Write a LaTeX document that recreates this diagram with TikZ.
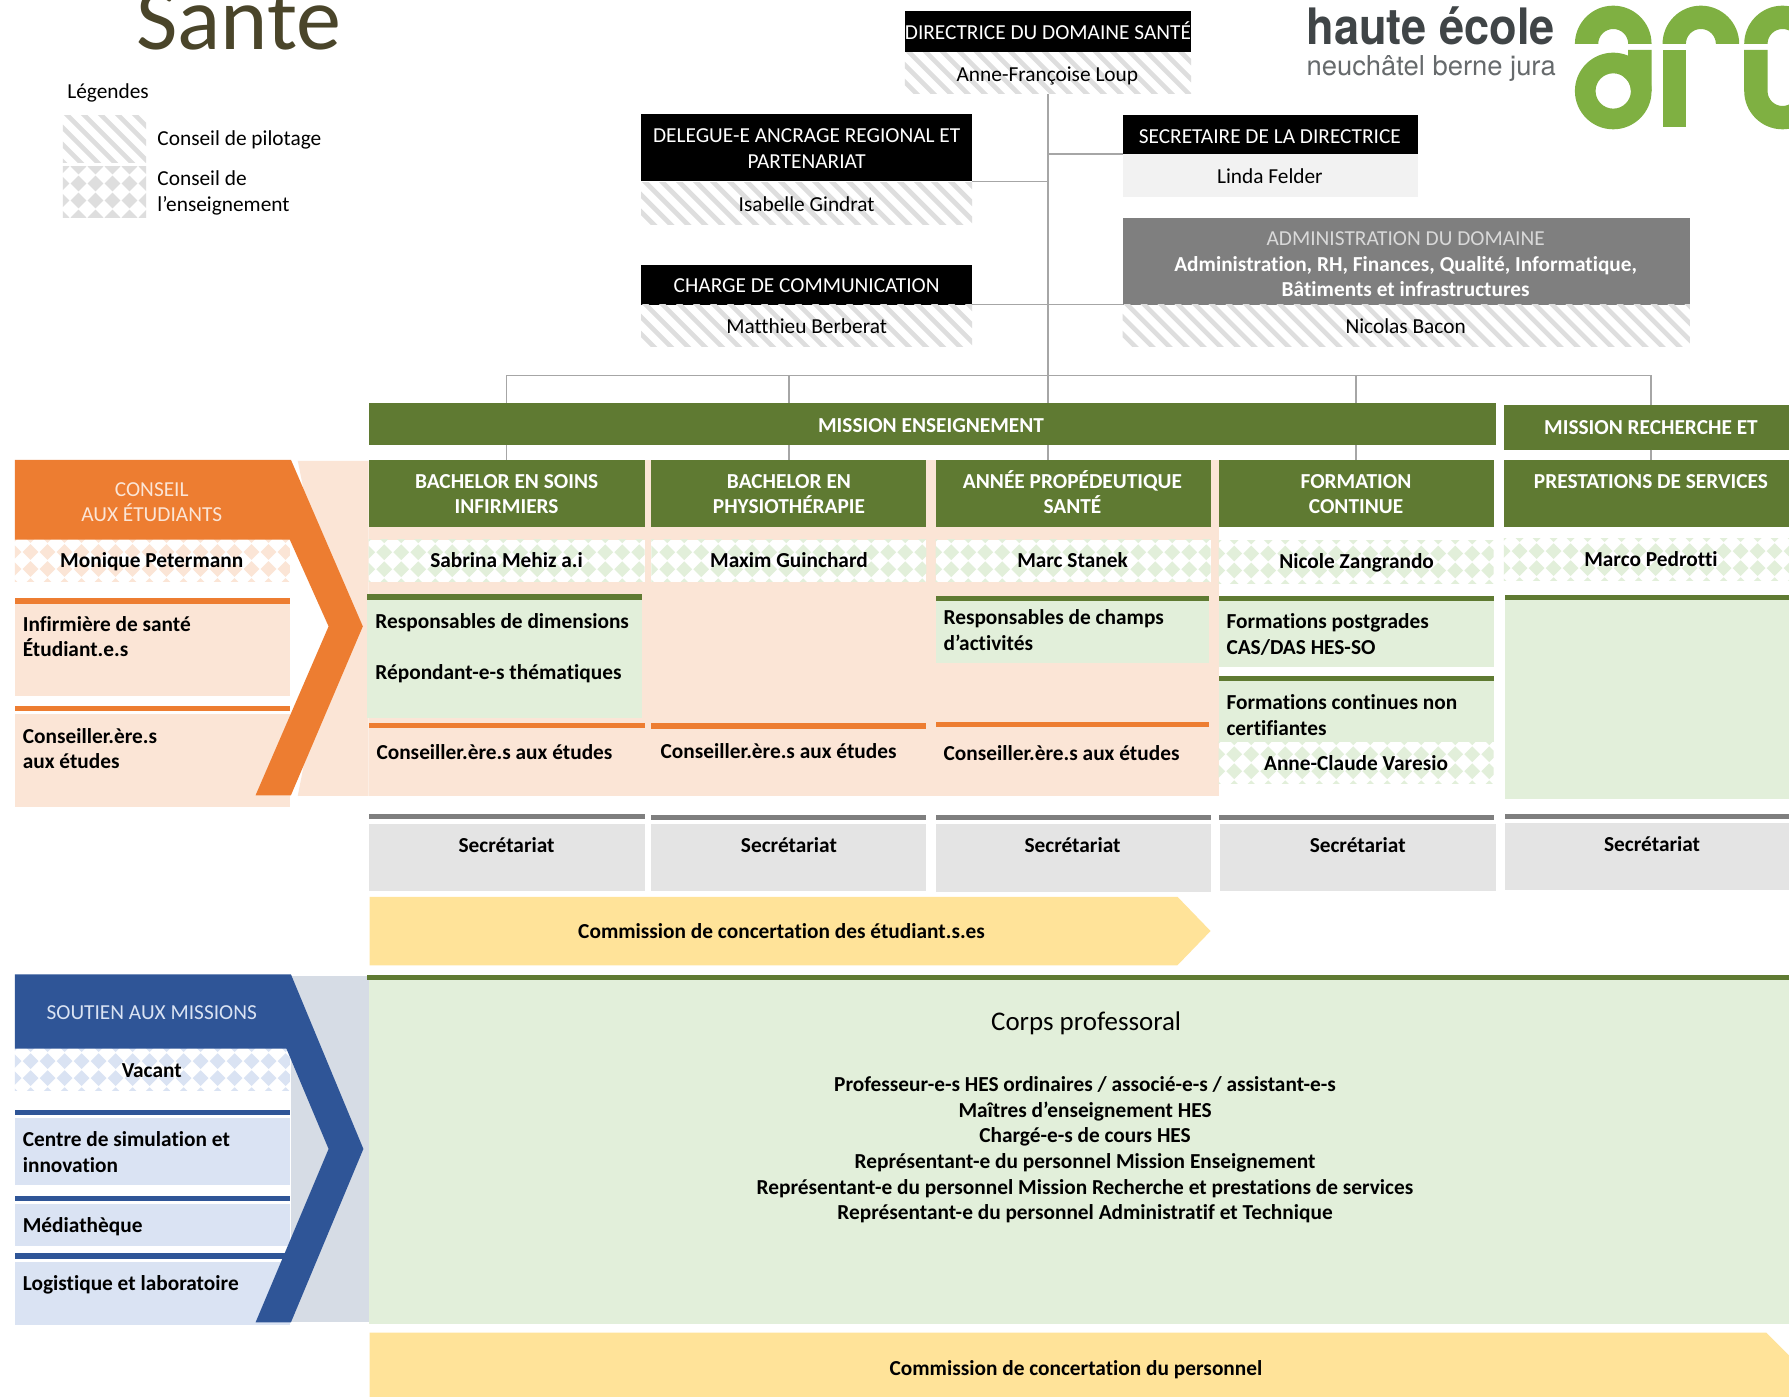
\documentclass[tikz,border=0pt]{standalone}
\usepackage{fontspec}
\usepackage{graphicx}
\setmainfont[Ligatures=CommonOff]{Carlito}
\newfontfamily\heros{TeX Gyre Heros}
\usetikzlibrary{calc}
\definecolor{gDark}{HTML}{5F7A32}
\definecolor{gLight}{HTML}{E2EFDA}
\definecolor{oDark}{HTML}{ED7D31}
\definecolor{oLight}{HTML}{FBE5D6}
\definecolor{bDark}{HTML}{2F5597}
\definecolor{bLight}{HTML}{DAE3F3}
\definecolor{bBack}{HTML}{D6DCE5}
\definecolor{grDark}{HTML}{7F7F7F}
\definecolor{grLight}{HTML}{E4E4E4}
\definecolor{hatchGrey}{HTML}{DEDEDE}
\definecolor{yel}{HTML}{FFE399}
\definecolor{arcGreen}{HTML}{7FB042}
\definecolor{sante}{HTML}{4A452A}
\definecolor{logoGrey}{HTML}{404547}
\definecolor{connGrey}{HTML}{A6A6A6}
\newcommand\fN{\fontsize{18.7}{22.5}\selectfont}
\newcommand\fB{\fontsize{18.7}{22.5}\selectfont\bfseries}
\tikzset{
 x=1pt,y=-1pt,
 boxn/.style={inner sep=0,outer sep=0,draw=none},
 conn/.style={draw=connGrey,line width=1.2pt},
 hatchfill/.style={fill=white,path picture={
   \foreach \k in {-4,...,36}{
     \draw[hatchGrey,line width=4.1pt] ($(path picture bounding box.north west)+(\k*14.9,-4)$) -- ++(54,54);
   }}},
 dmdfill/.style={fill=white,path picture={
   \foreach \r in {-2,...,1}{\foreach \c in {0,...,36}{
     \fill[#1] ($(path picture bounding box.west)+(\c*14.9-8,\r*14.9+7.45)$) -- ++(6.9,-6.9) -- ++(6.9,6.9) -- ++(-6.9,6.9) -- cycle;
   }}}},
 tc/.style={inner sep=0,outer sep=0,yshift=-2pt,align=center,font=\fN,text=black},
 tcb/.style={inner sep=0,outer sep=0,yshift=-2pt,align=center,font=\fB,text=black},
 tl/.style={inner sep=0,outer sep=0,yshift=-2pt,align=left,anchor=west,font=\fN,text=black},
 tlb/.style={inner sep=0,outer sep=0,yshift=-2pt,align=left,anchor=west,font=\fB,text=black},
}
\newcommand\bx[6]{\node[boxn,#1,minimum width={(#5-#3)*1pt},minimum height={(#6-#4)*1pt}] (#2) at ({(#3+#5)/2},{(#4+#6)/2}) {};}
\begin{document}
\begin{tikzpicture}
\path[use as bounding box,clip] (0,0) rectangle (1568,1223.6);
\fill[white] (0,0) rectangle (1568,1223.6);

% title and legend
\node[inner sep=0,anchor=base west,text=sante,font=\fontsize{79}{90}\selectfont] (title) at (119,43) {Santé};
\node[tl] (legT) at (59,80) {\strut Légendes};
\bx{hatchfill}{legH}{55}{101}{128}{142}
\bx{dmdfill=hatchGrey}{legD}{55}{145.5}{128}{191}
\node[tl] (legHt) at (138,121) {\strut Conseil de pilotage};
\node[tl] (legDt) at (138,167.5) {\strut Conseil de\\\strut l’enseignement};

% logo
\node[inner sep=0,anchor=base west,text=logoGrey,font=\heros\bfseries\fontsize{44}{50}\selectfont] (he) at (1145,39) {\scalebox{0.9}[1]{haute école}};
\node[inner sep=0,anchor=base west,text=logoGrey!80,font=\heros\fontsize{24}{30}\selectfont] (nbj) at (1145,66) {neuchâtel berne jura};
\begin{scope}[shift={(1367.2,0)},x=0.2921pt,y=-0.2921pt]
 \fill[arcGreen] (45,132) arc[start angle=180,end angle=0,radius=115pt*0.2921] -- (205,132) arc[start angle=0,end angle=180,radius=45pt*0.2921] -- cycle;
 \fill[arcGreen,even odd rule] (160,273) circle[radius=115pt*0.2921] (160,273) circle[radius=53pt*0.2921];
 \fill[arcGreen] (205,150) -- (275,150) -- (275,273) -- (213,273) arc[start angle=0,end angle=55,radius=53pt*0.2921] -- (205,165) -- cycle;
 \fill[arcGreen] (308,150) rectangle (378,382);
 \fill[arcGreen] (308,132) arc[start angle=180,end angle=0,radius=115pt*0.2921] -- (468,132) arc[start angle=0,end angle=180,radius=45pt*0.2921] -- cycle;
 \fill[arcGreen] (553,132) arc[start angle=180,end angle=0,radius=115pt*0.2921] -- (713,132) arc[start angle=0,end angle=180,radius=45pt*0.2921] -- cycle;
 \fill[arcGreen] (553,150) -- (623,150) -- (623,273) arc[start angle=180,end angle=360,radius=45pt*0.2921] -- (783,273) arc[start angle=0,end angle=-180,radius=115pt*0.2921] -- cycle;
\end{scope}

% management boxes
\bx{fill=black}{dirH}{793}{10}{1044}{46}
\bx{hatchfill}{dirN}{793}{46}{1044}{82}
\bx{fill=black}{delH}{562}{100}{852}{159}
\bx{hatchfill}{delN}{562}{160}{852}{197}
\bx{fill=black}{chaH}{562}{232}{852}{267}
\bx{hatchfill}{chaN}{562}{267}{852}{304}
\bx{fill=black}{secH}{984}{101}{1243}{135}
\bx{fill={rgb,255:red,242;green,242;blue,242}}{secN}{984}{135}{1243}{173}
\bx{fill=grDark}{admH}{984}{191}{1481}{267}
\bx{hatchfill}{admN}{984}{267}{1481}{304}

% mission bars, headers
\bx{fill=gDark}{ens}{323}{353}{1311}{390}
\bx{fill=gDark}{rec}{1318}{355}{1576}{394}
\bx{fill=gDark}{col1}{323}{403}{565}{462}
\bx{fill=gDark}{col2}{571}{403}{812}{462}
\bx{fill=gDark}{col3}{820}{403}{1061}{462}
\bx{fill=gDark}{col4}{1068}{403}{1309}{462}
\bx{fill=gDark}{col5}{1318}{403}{1576}{462}

% connectors
\coordinate (bus) at (918,329);
\draw[conn] (dirN.south) -- (dirN.south |- ens.north);
\draw[conn] (dirN.south |- secH.south west) -- (secH.south west);
\draw[conn] (delH.south east) -- (delH.south east -| dirN.south);
\draw[conn] (chaH.south east) -- (admH.south west);
\draw[conn] (col1.north |- bus) -- (rec.north |- bus);
\draw[conn] (col1.north |- bus) -- (col1.north |- ens.north);
\draw[conn] (col2.north |- bus) -- (col2.north |- ens.north);
\draw[conn] (col4.north |- bus) -- (col4.north |- ens.north);
\draw[conn] (rec.north |- bus) -- (rec.north);
\draw[conn] (col1.north |- ens.south) -- (col1.north);
\draw[conn] (col2.north |- ens.south) -- (col2.north);
\draw[conn] (dirN.south |- ens.south) -- (dirN.south |- col3.north);
\draw[conn] (col4.north |- ens.south) -- (col4.north);
\draw[conn] (rec.south) -- (col5.north);

% peach background
\fill[oLight] (261,404) -- (323,404) -- (323,697.5) -- (261,697.5) -- (290,549) -- cycle;
\fill[oLight] (323,462) rectangle (1068,698);
\fill[oLight] (565,403) rectangle (571,462);
\fill[oLight] (812,403) rectangle (820,462);
\fill[oLight] (1061,403) rectangle (1068,462);

% left panel orange
\bx{dmdfill=oLight}{cRow}{13}{473}{254}{509.5}
\bx{fill=oDark}{cS1}{13}{524.5}{254}{529.5}
\bx{fill=oLight}{cB1}{13}{529.5}{254}{610}
\bx{fill=oDark}{cS2}{13}{618.5}{254}{623.5}
\bx{fill=oLight}{cB2}{13}{626}{254}{707}
\fill[oDark] (13,403) -- (255,403) -- (318,549) -- (255,697) -- (224,697) -- (288,549) -- (254,473) -- (13,473) -- cycle;
\node[tc,text=oLight] (cT) at (133,439.5) {\strut CONSEIL\\\strut AUX ÉTUDIANTS};
\node[tcb] (cN) at (133,491) {\strut Monique Petermann};
\node[tlb] (cT1) at (20,558) {\strut Infirmière de santé\\\strut Étudiant.e.s};
\node[tlb] (cT2) at (20,656) {\strut Conseiller.ère.s\\\strut aux études};

% columns
\bx{dmdfill=gLight}{r1}{323}{473}{565}{510}
\bx{dmdfill=gLight}{r2}{571}{473}{812}{510}
\bx{dmdfill=gLight}{r3}{820}{473}{1061}{510}
\bx{dmdfill=gLight}{r4}{1068}{474}{1309}{511}
\bx{dmdfill=gLight}{r5}{1318}{472}{1576}{509}

\bx{fill=gDark}{s1}{322}{521}{563}{526}
\bx{fill=gLight}{b1}{322}{526}{563}{629}
\bx{fill=oDark}{o1}{323}{633.5}{565}{638}
\bx{fill=oDark}{o2}{571}{634}{812}{639}
\bx{fill=gDark}{s3}{820}{522}{1060}{526.5}
\bx{fill=gLight}{b3}{820}{526.5}{1060}{581}
\bx{fill=oDark}{o3}{820}{633}{1060}{637.5}
\bx{fill=gDark}{s4}{1068}{522.5}{1309}{527}
\bx{fill=gLight}{b4}{1068}{527}{1309}{584.5}
\bx{fill=gDark}{s4b}{1068}{592.5}{1309}{597}
\bx{fill=gLight}{b4b}{1068}{597}{1309}{650}
\bx{dmdfill=gLight}{r4b}{1068}{650}{1309}{687}
\bx{fill=gDark}{s5}{1319}{521.5}{1576}{526}
\bx{fill=gLight}{b5}{1319}{526}{1576}{700.5}

% secretariats
\bx{fill=grDark}{g1}{323}{713}{565}{718}
\bx{fill=grDark}{g2}{571}{714}{812}{719}
\bx{fill=grDark}{g3}{820}{714}{1061}{719}
\bx{fill=grDark}{g4}{1068}{714}{1309}{719}
\bx{fill=grDark}{g5}{1319}{713}{1576}{718}
\bx{fill=grLight}{e1}{323}{722}{565}{781}
\bx{fill=grLight}{e2}{571}{722}{812}{781}
\bx{fill=grLight}{e3}{820}{722}{1061}{782}
\bx{fill=grLight}{e4}{1069}{722}{1311}{781}
\bx{fill=grLight}{e5}{1319}{721}{1576}{780}

\fill[yel] (324,786) -- (1032,786) -- (1061,816) -- (1032,846) -- (324,846) -- cycle;

% bottom left
\fill[bBack] (255,855) rectangle (323,1159);
\bx{dmdfill=bLight}{sRow}{13}{919}{254}{956}
\bx{fill=bDark}{sS1}{13}{973}{254}{977.5}
\bx{fill=bLight}{sB1}{13}{980}{254}{1038.5}
\bx{fill=bDark}{sS2}{13}{1048}{254}{1052.5}
\bx{fill=bLight}{sB2}{13}{1055.5}{254}{1092}
\bx{fill=bDark}{sS3}{13}{1098.5}{254}{1103.5}
\bx{fill=bLight}{sB3}{13}{1106}{254}{1161}
\fill[bDark] (13,854) -- (255,854) -- (318.5,1007) -- (255,1159) -- (224,1159) -- (288,1007) -- (251,919) -- (13,919) -- cycle;

% corps professoral
\bx{fill=gLight}{corps}{323}{855}{1568}{1160}
\bx{fill=gDark}{corpsS}{322}{854.5}{1568}{858.5}
\fill[yel] (324,1168) -- (1548,1168) -- (1608,1228) -- (324,1228) -- cycle;

% texts
\node[tc,text=white] (dirHt) at (918.5,28) {\strut DIRECTRICE DU DOMAINE SANTÉ};
\node[tc] (dirNt) at (918,64.5) {\strut Anne-Françoise Loup};
\node[tc,text=white] (delHt) at (707,129.5) {\strut DELEGUE-E ANCRAGE REGIONAL ET\\\strut PARTENARIAT};
\node[tc] (delNt) at (707,179) {\strut Isabelle Gindrat};
\node[tc,text=white] (chaHt) at (707,249.5) {\strut CHARGE DE COMMUNICATION};
\node[tc] (chaNt) at (707,286) {\strut Matthieu Berberat};
\node[tc,text=white] (secHt) at (1113,119.5) {\strut SECRETAIRE DE LA DIRECTRICE};
\node[tc] (secNt) at (1113,154.5) {\strut Linda Felder};
\node[tc,text=white!85!black] (admHt) at (1232,209) {\strut ADMINISTRATION DU DOMAINE};
\node[tcb,text=white] (admHb) at (1232,242.5) {\strut Administration, RH, Finances, Qualité, Informatique,\\\strut Bâtiments et infrastructures};
\node[tc] (admNt) at (1232,286) {\strut Nicolas Bacon};

\node[tcb,text=white] (enst) at (816,373) {\strut MISSION ENSEIGNEMENT};
\node[tcb,text=white] (rect) at (1447,374) {\strut MISSION RECHERCHE ET};
\node[tcb,text=white] (c1t) at (444,432.5) {\strut BACHELOR EN SOINS\\\strut INFIRMIERS};
\node[tcb,text=white] (c2t) at (691.5,432.5) {\strut BACHELOR EN\\\strut PHYSIOTHÉRAPIE};
\node[tcb,text=white] (c3t) at (940,432.5) {\strut ANNÉE PROPÉDEUTIQUE\\\strut SANTÉ};
\node[tcb,text=white] (c4t) at (1188.5,432.5) {\strut FORMATION\\\strut CONTINUE};
\node[tcb,text=white] (c5t) at (1447,422) {\strut PRESTATIONS DE SERVICES};

\node[tcb] (n1) at (444,491) {\strut Sabrina Mehiz a.i};
\node[tcb] (n2) at (691.5,491) {\strut Maxim Guinchard};
\node[tcb] (n3) at (940,491) {\strut Marc Stanek};
\node[tcb] (n4) at (1189,492) {\strut Nicole Zangrando};
\node[tcb] (n5) at (1447,490) {\strut Marco Pedrotti};

\node[tlb] (t1a) at (329,544) {\strut Responsables de dimensions};
\node[tlb] (t1b) at (329,589) {\strut Répondant-e-s thématiques};
\node[tlb] (t1c) at (330,659) {\strut Conseiller.ère.s aux études};
\node[tlb] (t2c) at (579,658) {\strut Conseiller.ère.s aux études};
\node[tlb] (t3a) at (827,552) {\strut Responsables de champs\\\strut d’activités};
\node[tlb] (t3c) at (827,660) {\strut Conseiller.ère.s aux études};
\node[tlb] (t4a) at (1075,556) {\strut Formations postgrades\\\strut CAS/DAS HES-SO};
\node[tlb] (t4b) at (1075,626.5) {\strut Formations continues non\\\strut certifiantes};
\node[tcb] (t4c) at (1188.5,669) {\strut Anne-Claude Varesio};

\node[tcb] (e1t) at (444,741) {\strut Secrétariat};
\node[tcb] (e2t) at (691.5,741) {\strut Secrétariat};
\node[tcb] (e3t) at (940,741) {\strut Secrétariat};
\node[tcb] (e4t) at (1190,741) {\strut Secrétariat};
\node[tcb] (e5t) at (1448,739.5) {\strut Secrétariat};

\node[tcb] (y1t) at (685,816) {\strut Commission de concertation des étudiant.s.es};

\node[tc,text=bLight] (sT) at (133,887) {\strut SOUTIEN AUX MISSIONS};
\node[tcb] (sN) at (133,938) {\strut Vacant};
\node[tlb] (sT1) at (20,1009.5) {\strut Centre de simulation et\\\strut innovation};
\node[tlb] (sT2) at (20,1074) {\strut Médiathèque};
\node[tlb] (sT3) at (20,1125) {\strut Logistique et laboratoire};

\node[tc,font=\fontsize{23.6}{28}\selectfont] (cpT) at (952,895.5) {\strut Corps professoral};
\node[tcb] (cpL) at (951,1006.5) {\strut Professeur-e-s HES ordinaires / associé-e-s / assistant-e-s\\
Maîtres d’enseignement HES\\
Chargé-e-s de cours HES\\
Représentant-e du personnel Mission Enseignement\\
Représentant-e du personnel Mission Recherche et prestations de services\\
\strut Représentant-e du personnel Administratif et Technique};
\node[tcb] (y2t) at (943,1199) {\strut Commission de concertation du personnel};
\end{tikzpicture}
\end{document}
